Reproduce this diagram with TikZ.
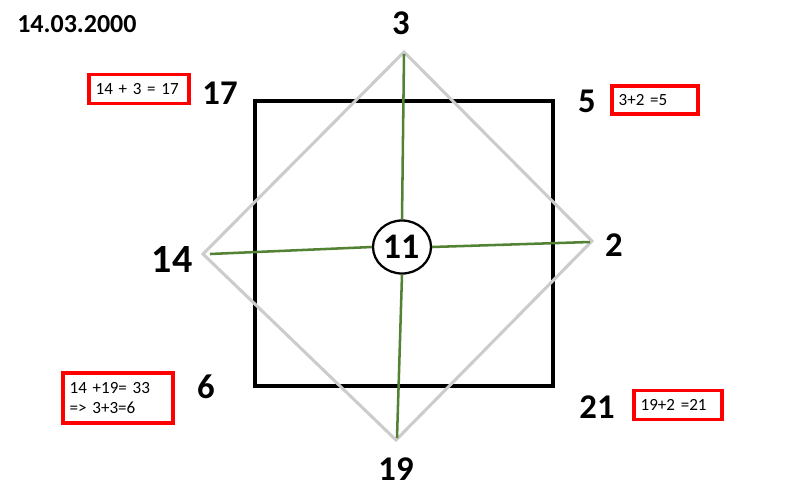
\documentclass[tikz,border=0pt]{standalone}
\usepackage{fontspec}
\setmainfont{Carlito}
\usetikzlibrary{shapes.geometric}
\definecolor{linegreen}{RGB}{84,130,53}
\definecolor{diagray}{RGB}{204,204,204}
\definecolor{boxred}{RGB}{255,0,0}
\tikzset{
  num/.style={font=\fontsize{26}{30}\selectfont\bfseries, inner sep=0pt, anchor=base},
  redbox/.style={draw=boxred, line width=2.3pt, inner xsep=5pt, inner ysep=2pt, align=left,
    font=\fontsize{12.8}{15.5}\selectfont},
  squareline/.style={line width=2.8pt, black},
  diagline/.style={line width=2.3pt, diagray, line join=miter},
  crossline/.style={line width=1.9pt, linegreen},
}
\begin{document}
\begin{tikzpicture}[x=0.75pt,y=-0.75pt]
\useasboundingbox (0,0) rectangle (805,492);
% square
\draw[squareline] (255,101) rectangle (553,386);
% diamond
\coordinate (dt) at (404,52);
\coordinate (dr) at (592,241);
\coordinate (db) at (396,440);
\coordinate (dl) at (203,254);
\draw[diagline] (dt) -- (dr) -- (db) -- (dl) -- cycle;
% green cross
\coordinate (gl) at (210,254);
\coordinate (gr) at (590,242);
\coordinate (gt) at (404,54);
\coordinate (gb) at (397,438);
\node[ellipse, draw, line width=1.7pt, fill=white, minimum width=58*0.75pt, minimum height=53*0.75pt, inner sep=0pt] (c) at (402,247) {};
\draw[crossline] (gl) -- (c.west);
\draw[crossline] (c.east) -- (gr);
\draw[crossline] (gt) -- (c.north);
\draw[crossline] (c.south) -- (gb);
\node[num, font=\fontsize{27}{30}\selectfont\bfseries] (n11) at (401,258) {11};
% labels
\node[font=\fontsize{19.5}{22}\selectfont\bfseries, inner sep=0pt, anchor=base west] (title) at (17,33) {14.03.2000};
\node[num] (n3) at (401,35) {3};
\node[num] (n17) at (220,104) {17};
\node[num] (n5) at (587,112) {5};
\node[num, font=\fontsize{30}{34}\selectfont\bfseries] (n14) at (172,272) {14};
\node[num] (n2) at (614,256) {2};
\node[num] (n6) at (206,398) {6};
\node[num] (n21) at (597,418) {21};
\node[num] (n19) at (396,480) {19};
% red boxes
\node[redbox, text width=100*0.75pt-10pt, minimum height=29*0.75pt] (b1) at (139,89) {14 + 3 = 17};
\node[redbox, text width=86*0.75pt-10pt, minimum height=28*0.75pt] (b2) at (655,100) {3+2 =5};
\node[redbox, text width=110*0.75pt-10pt, minimum height=50*0.75pt] (b3) at (118,398) {14 +19= 33\\=> 3+3=6};
\node[redbox, text width=88*0.75pt-10pt, minimum height=29*0.75pt] (b4) at (678,405) {19+2 =21};
\end{tikzpicture}
\end{document}
